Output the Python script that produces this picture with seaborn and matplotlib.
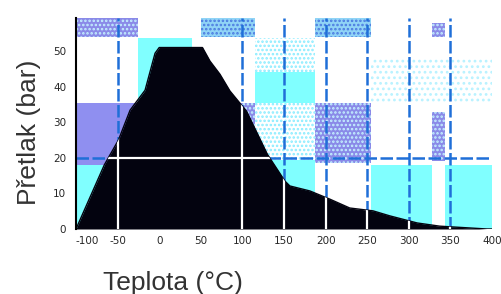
import matplotlib
matplotlib.use("Agg")
import matplotlib.pyplot as plt
import seaborn as sns
import pandas as pd
from matplotlib.patches import Rectangle

# ---- data ----
temps = [-100, -66, -49, -35, -17, -5, 0, 52, 61, 73, 85, 105, 130, 151, 157, 181, 205, 229, 257, 277, 310, 337, 394, 400]
press = [0, 18, 25, 33.4, 39, 49.4, 51, 51, 47.2, 43.5, 38.8, 33.1, 21, 13.5, 12.1, 10.7, 8.4, 5.9, 5.1, 3.7, 1.7, 0.8, 0, 0]

grid_temps = [-50, 100, 150, 200, 250, 300, 350]
grid_press = [20]

# regions: temperature span, pressure span, kind
reg_t0 = [-100, -100, -100, -25, 50, 90, 115, 115, 115, 115, 187, 187, 255, 255, 328, 328, 343]
reg_t1 = [-25, -25, -25, 40, 115, 115, 187, 187, 187, 187, 255, 255, 400, 328, 343, 343, 400]
reg_p0 = [0, 18, 54, 0, 54, 18, 44, 35.5, 19.4, 0, 54, 18.5, 35.7, 0, 54, 19, 0]
reg_p1 = [18, 35.4, 59.3, 53.6, 59.3, 35.4, 53.7, 44, 35.5, 19.4, 59.3, 35.4, 48, 18, 58, 33, 18]
reg_kind = ["cyan", "purple", "purplehatch", "cyan", "bluehatch", "purplehatch",
            "lightdots", "cyan", "lightdots", "cyan", "bluehatch", "purplehatch",
            "sparsedots", "cyan", "purplehatch", "purplehatch", "cyan"]

xticks = [-100, -50, 0, 50, 100, 150, 200, 250, 300, 350, 400]
yticks = [0, 10, 20, 30, 40, 50]

styles = {
    "cyan": dict(facecolor="#80ffff", edgecolor="none", hatch=None),
    "purple": dict(facecolor="#8f8ff0", edgecolor="none", hatch=None),
    "purplehatch": dict(facecolor="#8a8ae8", edgecolor="#c4f2ff", hatch="...."),
    "bluehatch": dict(facecolor="#90d4f6", edgecolor="#4a78e0", hatch="...."),
    "lightdots": dict(facecolor="#ffffff", edgecolor="#88ecff", hatch="...."),
    "sparsedots": dict(facecolor="#ffffff", edgecolor="#b8f2ff", hatch="..."),
}

sns.set_style("white")
plt.rcParams["hatch.linewidth"] = 1.2

fig = plt.figure(figsize=(5.01, 2.94), dpi=100)
ax = fig.add_axes([76 / 501, 65 / 294, 416 / 501, 211 / 294])

for t0, t1, p0, p1, k in zip(reg_t0, reg_t1, reg_p0, reg_p1, reg_kind):
    st = styles[k]
    ax.add_patch(Rectangle((t0, p0), t1 - t0, p1 - p0, facecolor=st["facecolor"],
                           edgecolor=st["edgecolor"], hatch=st["hatch"], linewidth=0, zorder=1))

ax.vlines(grid_temps, 0, 59.3, colors="#1f6fd8", linestyles=(0, (5, 1.4)), linewidth=1.8, zorder=2)
ax.hlines(grid_press, -100, 400, colors="#1f6fd8", linestyles=(0, (5, 1.4)), linewidth=1.8, zorder=2)

df = pd.DataFrame({"t": temps, "p": press})
coll = ax.fill_between(df["t"], 0, df["p"], color="#03030f", linewidth=0, zorder=3)
sns.lineplot(data=df, x="t", y="p", color="#03030f", linewidth=1, ax=ax, zorder=3)

clip = coll.get_paths()[0]
wv = ax.vlines(grid_temps, 0, 59.3, colors="white", linewidth=1.6, zorder=4)
wh = ax.hlines(grid_press, -100, 400, colors="white", linewidth=1.6, zorder=4)
wv.set_clip_path(clip, ax.transData)
wh.set_clip_path(clip, ax.transData)

ax.set_xlim(-100, 400)
ax.set_ylim(0, 59.3)
ax.set_xticks(xticks)
ax.set_yticks(yticks)
ax.set_xticklabels([str(v) for v in xticks], fontsize=7.5)
ax.set_yticklabels([str(v) for v in yticks], fontsize=7.5)
ax.get_xticklabels()[0].set_horizontalalignment("left")
ax.tick_params(axis="x", length=0, pad=5)
ax.tick_params(axis="y", length=0, pad=7)
ax.set_xlabel("")
ax.set_ylabel("")
for s in ["top", "right", "bottom"]:
    ax.spines[s].set_visible(False)
ax.spines["left"].set_color("black")
ax.spines["left"].set_linewidth(1.5)
ax.spines["left"].set_zorder(5)

fig.text(173 / 501, 1 - 283 / 294, "Teplota (°C)", fontsize=19, family="Liberation Sans",
         color="#333333", ha="center", va="center")
fig.text(29 / 501, 1 - 132 / 294, "Přetlak (bar)", fontsize=19, family="Liberation Sans",
         color="#333333", ha="center", va="center", rotation=90)

fig.savefig("out.png", dpi=100)
